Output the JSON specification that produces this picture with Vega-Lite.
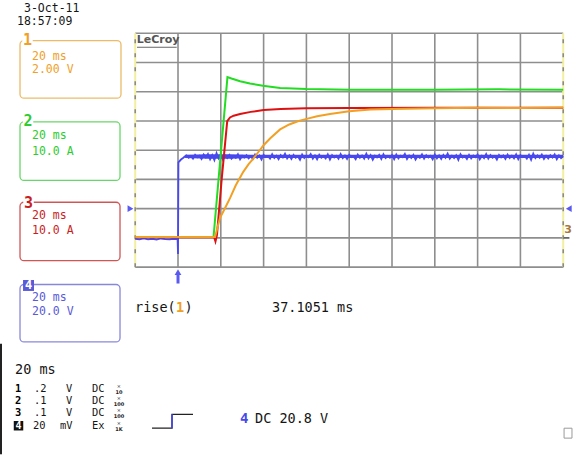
{
"$schema": "https://vega.github.io/schema/vega-lite/v6.json",
"width": 586, "height": 456,
"autosize": {"type": "fit", "contains": "padding"},
"padding": 0,
"background": "white",
"config": {"view": {"stroke": null}, "axis": {"disable": true}, "legend": {"disable": true}},
"datasets": {
"vgrid": [{"t":0,"v":-4,"v2":4},{"t":20,"v":-4,"v2":4},{"t":40,"v":-4,"v2":4},{"t":60,"v":-4,"v2":4},{"t":80,"v":-4,"v2":4},{"t":100,"v":-4,"v2":4},{"t":120,"v":-4,"v2":4},{"t":140,"v":-4,"v2":4},{"t":160,"v":-4,"v2":4}],
"hgrid": [{"v":-4,"t":-20,"t2":180},{"v":-3,"t":-20,"t2":180},{"v":-2,"t":-20,"t2":180},{"v":-1,"t":-20,"t2":180},{"v":0,"t":-20,"t2":180},{"v":1,"t":-20,"t2":180},{"v":2,"t":-20,"t2":180},{"v":3,"t":-20,"t2":180},{"v":4,"t":-20,"t2":180}],
"xticks": [{"t":-16},{"t":-12},{"t":-8},{"t":-4},{"t":4},{"t":8},{"t":12},{"t":16},{"t":24},{"t":28},{"t":32},{"t":36},{"t":44},{"t":48},{"t":52},{"t":56},{"t":64},{"t":68},{"t":72},{"t":76},{"t":84},{"t":88},{"t":92},{"t":96},{"t":104},{"t":108},{"t":112},{"t":116},{"t":124},{"t":128},{"t":132},{"t":136},{"t":144},{"t":148},{"t":152},{"t":156},{"t":164},{"t":168},{"t":172},{"t":176}],
"yticks": [{"v":-3.8},{"v":-3.6},{"v":-3.4},{"v":-3.2},{"v":-2.8},{"v":-2.6},{"v":-2.4},{"v":-2.2},{"v":-1.8},{"v":-1.6},{"v":-1.4},{"v":-1.2},{"v":-0.8},{"v":-0.6},{"v":-0.4},{"v":-0.2},{"v":0.2},{"v":0.4},{"v":0.6},{"v":0.8},{"v":1.2},{"v":1.4},{"v":1.6},{"v":1.8},{"v":2.2},{"v":2.4},{"v":2.6},{"v":2.8},{"v":3.2},{"v":3.4},{"v":3.6},{"v":3.8}],
"borders": [{"t":-20,"v":-4,"v2":4},{"t":180,"v":-4,"v2":4}],
"blueband": [{"t":3.3,"v":-0.27,"v2":-0.16},{"t":14,"v":-0.29,"v2":-0.14},{"t":24,"v":-0.29,"v2":-0.14},{"t":34,"v":-0.27,"v2":-0.16},{"t":180,"v":-0.27,"v2":-0.16}],
"traces": [
{"ch":"4","t":-20,"v":-3.03},{"ch":"4","t":-18,"v":-3.05},{"ch":"4","t":-16,"v":-3.02},{"ch":"4","t":-14,"v":-3.05},{"ch":"4","t":-12,"v":-3.03},{"ch":"4","t":-10,"v":-3.06},{"ch":"4","t":-8,"v":-3.02},{"ch":"4","t":-6,"v":-3.04},{"ch":"4","t":-4,"v":-3.05},{"ch":"4","t":-2,"v":-3.03},{"ch":"4","t":-0.2,"v":-3.04},{"ch":"4","t":0,"v":-3.55},{"ch":"4","t":0.2,"v":-0.42},{"ch":"4","t":1.4,"v":-0.32},{"ch":"4","t":2.5,"v":-0.26},{"ch":"4","t":3.3,"v":-0.21},
{"ch":"4","t":4,"v":-0.18},{"ch":"4","t":5,"v":-0.26},{"ch":"4","t":6,"v":-0.2},{"ch":"4","t":7,"v":-0.29},{"ch":"4","t":8,"v":-0.16},{"ch":"4","t":9,"v":-0.24},{"ch":"4","t":10,"v":-0.19},{"ch":"4","t":11,"v":-0.3},{"ch":"4","t":12,"v":-0.15},{"ch":"4","t":13,"v":-0.25},
{"ch":"4","t":14,"v":-0.13},{"ch":"4","t":15,"v":-0.31},{"ch":"4","t":16,"v":-0.17},{"ch":"4","t":17,"v":-0.34},{"ch":"4","t":18,"v":-0.1},{"ch":"4","t":19,"v":-0.28},{"ch":"4","t":20,"v":-0.14},{"ch":"4","t":21,"v":-0.33},{"ch":"4","t":22,"v":-0.18},{"ch":"4","t":23,"v":-0.27},
{"ch":"4","t":24,"v":-0.16},{"ch":"4","t":25,"v":-0.29},{"ch":"4","t":26,"v":-0.2},{"ch":"4","t":27,"v":-0.26},{"ch":"4","t":28,"v":-0.14},{"ch":"4","t":29,"v":-0.31},{"ch":"4","t":30,"v":-0.19},{"ch":"4","t":31,"v":-0.25},{"ch":"4","t":32,"v":-0.17},{"ch":"4","t":33,"v":-0.28},
{"ch":"4","t":34,"v":-0.21},{"ch":"4","t":35,"v":-0.3},{"ch":"4","t":36,"v":-0.15},{"ch":"4","t":37,"v":-0.26},{"ch":"4","t":38,"v":-0.18},{"ch":"4","t":39,"v":-0.32},{"ch":"4","t":40,"v":-0.16},{"ch":"4","t":41,"v":-0.24},{"ch":"4","t":42,"v":-0.2},{"ch":"4","t":43,"v":-0.29},
{"ch":"4","t":44,"v":-0.14},{"ch":"4","t":45,"v":-0.27},{"ch":"4","t":46,"v":-0.19},{"ch":"4","t":47,"v":-0.31},{"ch":"4","t":48,"v":-0.17},{"ch":"4","t":49,"v":-0.25},{"ch":"4","t":50,"v":-0.12},{"ch":"4","t":51,"v":-0.28},{"ch":"4","t":52,"v":-0.18},{"ch":"4","t":53,"v":-0.3},
{"ch":"4","t":54,"v":-0.16},{"ch":"4","t":55,"v":-0.26},{"ch":"4","t":56,"v":-0.21},{"ch":"4","t":57,"v":-0.33},{"ch":"4","t":58,"v":-0.15},{"ch":"4","t":59,"v":-0.27},{"ch":"4","t":60,"v":-0.19},{"ch":"4","t":61,"v":-0.24},{"ch":"4","t":62,"v":-0.13},{"ch":"4","t":63,"v":-0.29},
{"ch":"4","t":64,"v":-0.18},{"ch":"4","t":65,"v":-0.31},{"ch":"4","t":66,"v":-0.16},{"ch":"4","t":67,"v":-0.26},{"ch":"4","t":68,"v":-0.2},{"ch":"4","t":69,"v":-0.28},{"ch":"4","t":70,"v":-0.14},{"ch":"4","t":71,"v":-0.32},{"ch":"4","t":72,"v":-0.17},{"ch":"4","t":73,"v":-0.25},
{"ch":"4","t":74,"v":-0.19},{"ch":"4","t":75,"v":-0.29},{"ch":"4","t":76,"v":-0.13},{"ch":"4","t":77,"v":-0.27},{"ch":"4","t":78,"v":-0.18},{"ch":"4","t":79,"v":-0.3},{"ch":"4","t":80,"v":-0.16},{"ch":"4","t":81,"v":-0.24},{"ch":"4","t":82,"v":-0.21},{"ch":"4","t":83,"v":-0.31},
{"ch":"4","t":84,"v":-0.15},{"ch":"4","t":85,"v":-0.26},{"ch":"4","t":86,"v":-0.18},{"ch":"4","t":87,"v":-0.29},{"ch":"4","t":88,"v":-0.12},{"ch":"4","t":89,"v":-0.28},{"ch":"4","t":90,"v":-0.17},{"ch":"4","t":91,"v":-0.33},{"ch":"4","t":92,"v":-0.19},{"ch":"4","t":93,"v":-0.25},
{"ch":"4","t":94,"v":-0.16},{"ch":"4","t":95,"v":-0.3},{"ch":"4","t":96,"v":-0.14},{"ch":"4","t":97,"v":-0.27},{"ch":"4","t":98,"v":-0.2},{"ch":"4","t":99,"v":-0.26},{"ch":"4","t":100,"v":-0.17},{"ch":"4","t":101,"v":-0.31},{"ch":"4","t":102,"v":-0.15},{"ch":"4","t":103,"v":-0.28},
{"ch":"4","t":104,"v":-0.19},{"ch":"4","t":105,"v":-0.24},{"ch":"4","t":106,"v":-0.13},{"ch":"4","t":107,"v":-0.3},{"ch":"4","t":108,"v":-0.18},{"ch":"4","t":109,"v":-0.27},{"ch":"4","t":110,"v":-0.16},{"ch":"4","t":111,"v":-0.32},{"ch":"4","t":112,"v":-0.2},{"ch":"4","t":113,"v":-0.26},
{"ch":"4","t":114,"v":-0.14},{"ch":"4","t":115,"v":-0.29},{"ch":"4","t":116,"v":-0.17},{"ch":"4","t":117,"v":-0.25},{"ch":"4","t":118,"v":-0.19},{"ch":"4","t":119,"v":-0.31},{"ch":"4","t":120,"v":-0.15},{"ch":"4","t":121,"v":-0.28},{"ch":"4","t":122,"v":-0.18},{"ch":"4","t":123,"v":-0.3},
{"ch":"4","t":124,"v":-0.16},{"ch":"4","t":125,"v":-0.26},{"ch":"4","t":126,"v":-0.12},{"ch":"4","t":127,"v":-0.29},{"ch":"4","t":128,"v":-0.19},{"ch":"4","t":129,"v":-0.27},{"ch":"4","t":130,"v":-0.17},{"ch":"4","t":131,"v":-0.33},{"ch":"4","t":132,"v":-0.14},{"ch":"4","t":133,"v":-0.25},
{"ch":"4","t":134,"v":-0.2},{"ch":"4","t":135,"v":-0.3},{"ch":"4","t":136,"v":-0.16},{"ch":"4","t":137,"v":-0.28},{"ch":"4","t":138,"v":-0.18},{"ch":"4","t":139,"v":-0.24},{"ch":"4","t":140,"v":-0.15},{"ch":"4","t":141,"v":-0.31},{"ch":"4","t":142,"v":-0.19},{"ch":"4","t":143,"v":-0.27},
{"ch":"4","t":144,"v":-0.13},{"ch":"4","t":145,"v":-0.29},{"ch":"4","t":146,"v":-0.17},{"ch":"4","t":147,"v":-0.26},{"ch":"4","t":148,"v":-0.2},{"ch":"4","t":149,"v":-0.32},{"ch":"4","t":150,"v":-0.16},{"ch":"4","t":151,"v":-0.25},{"ch":"4","t":152,"v":-0.18},{"ch":"4","t":153,"v":-0.3},
{"ch":"4","t":154,"v":-0.15},{"ch":"4","t":155,"v":-0.27},{"ch":"4","t":156,"v":-0.19},{"ch":"4","t":157,"v":-0.28},{"ch":"4","t":158,"v":-0.14},{"ch":"4","t":159,"v":-0.31},{"ch":"4","t":160,"v":-0.17},{"ch":"4","t":161,"v":-0.24},{"ch":"4","t":162,"v":-0.2},{"ch":"4","t":163,"v":-0.29},
{"ch":"4","t":164,"v":-0.16},{"ch":"4","t":165,"v":-0.33},{"ch":"4","t":166,"v":-0.12},{"ch":"4","t":167,"v":-0.27},{"ch":"4","t":168,"v":-0.18},{"ch":"4","t":169,"v":-0.26},{"ch":"4","t":170,"v":-0.15},{"ch":"4","t":171,"v":-0.3},{"ch":"4","t":172,"v":-0.19},{"ch":"4","t":173,"v":-0.28},
{"ch":"4","t":174,"v":-0.17},{"ch":"4","t":175,"v":-0.25},{"ch":"4","t":176,"v":-0.14},{"ch":"4","t":177,"v":-0.31},{"ch":"4","t":178,"v":-0.18},{"ch":"4","t":179,"v":-0.27},{"ch":"4","t":180,"v":-0.2},
{"ch":"2","t":-20,"v":-2.97},{"ch":"2","t":16.6,"v":-2.97},{"ch":"2","t":23.1,"v":2.5},{"ch":"2","t":25,"v":2.45},{"ch":"2","t":29,"v":2.36},{"ch":"2","t":33.6,"v":2.28},{"ch":"2","t":39.7,"v":2.2},{"ch":"2","t":47.7,"v":2.13},{"ch":"2","t":60,"v":2.09},{"ch":"2","t":80,"v":2.07},{"ch":"2","t":120,"v":2.07},{"ch":"2","t":150,"v":2.08},{"ch":"2","t":180,"v":2.07},
{"ch":"3","t":-20,"v":-2.98},{"ch":"3","t":16.9,"v":-2.98},{"ch":"3","t":17.5,"v":-3.12},{"ch":"3","t":18.2,"v":-2.9},{"ch":"3","t":20.4,"v":-1.0},{"ch":"3","t":23.0,"v":0.99},{"ch":"3","t":24.3,"v":1.12},{"ch":"3","t":26,"v":1.18},{"ch":"3","t":29,"v":1.24},{"ch":"3","t":34,"v":1.31},{"ch":"3","t":40,"v":1.37},{"ch":"3","t":48,"v":1.41},{"ch":"3","t":60,"v":1.43},{"ch":"3","t":80,"v":1.44},{"ch":"3","t":120,"v":1.45},{"ch":"3","t":180,"v":1.45},
{"ch":"1","t":-20,"v":-2.97},{"ch":"1","t":17.3,"v":-2.97},{"ch":"1","t":19.6,"v":-2.32},{"ch":"1","t":22,"v":-1.98},{"ch":"1","t":24.3,"v":-1.64},{"ch":"1","t":27,"v":-1.2},{"ch":"1","t":30.5,"v":-0.74},{"ch":"1","t":33,"v":-0.48},{"ch":"1","t":35.2,"v":-0.29},{"ch":"1","t":38,"v":-0.02},{"ch":"1","t":40,"v":0.17},{"ch":"1","t":43,"v":0.4},{"ch":"1","t":47.7,"v":0.71},{"ch":"1","t":52,"v":0.88},{"ch":"1","t":56,"v":0.99},{"ch":"1","t":60.1,"v":1.07},{"ch":"1","t":65,"v":1.16},{"ch":"1","t":71,"v":1.24},{"ch":"1","t":80,"v":1.33},{"ch":"1","t":90,"v":1.39},{"ch":"1","t":100,"v":1.41},{"ch":"1","t":120,"v":1.43},{"ch":"1","t":140,"v":1.45},{"ch":"1","t":160,"v":1.44},{"ch":"1","t":180,"v":1.46}
],
"markers": [{"k":"L","t":-22.2,"v":-2.0},{"k":"R","t":182.6,"v":-2.0},{"k":"T","t":0,"v":-4.17}],
"trigshaft": [{"t":0,"v":-4.25,"v2":-4.56}],
"rightlevel": [{"t":180.3,"t2":182.9,"v":-3.0}],
"rightlabel": [{"t":182.3,"v":-2.73,"text":"3"}],
"boxes": [
{"ch":"1","t":-73.83,"t2":-26.64,"v":3.746,"v2":1.78},
{"ch":"2","t":-73.83,"t2":-27.1,"v":0.966,"v2":-1.034},
{"ch":"3","t":-73.83,"t2":-27.1,"v":-1.78,"v2":-3.78},
{"ch":"4","t":-73.83,"t2":-27.1,"v":-4.593,"v2":-6.559}
],
"boxtext": [
{"ch":"1","t":-68.22,"v":3.203,"text":"20 ms"},{"ch":"1","t":-68.22,"v":2.729,"text":"2.00 V"},
{"ch":"2","t":-68.22,"v":0.492,"text":"20 ms"},{"ch":"2","t":-68.22,"v":-0.051,"text":"10.0 A"},
{"ch":"3","t":-68.22,"v":-2.254,"text":"20 ms"},{"ch":"3","t":-68.22,"v":-2.763,"text":"10.0 A"},
{"ch":"4","t":-68.22,"v":-5.068,"text":"20 ms"},{"ch":"4","t":-68.22,"v":-5.542,"text":"20.0 V"}
],
"boxlabels": [
{"ch":"1","t":-70.33,"v":3.78,"text":"1"},
{"ch":"2","t":-70.09,"v":0.983,"text":"2"},
{"ch":"3","t":-69.86,"v":-1.814,"text":"3"},
{"ch":"4","t":-69.86,"v":-4.627,"text":"4"}
],
"datetime": [
{"t":-71.96,"v":4.83,"text":"3-Oct-11"},
{"t":-75.23,"v":4.373,"text":"18:57:09"}
],
"black": [
{"t":-20.09,"v":-5.407,"text":"rise("},
{"t":3.0,"v":-5.407,"text":")"},
{"t":43.93,"v":-5.407,"text":"37.1051 ms"},
{"t":-76.17,"v":-7.508,"text":"20 ms"},
{"t":35.98,"v":-9.203,"text":"DC 20.8 V"}
],
"rows": [
{"t":-67.29,"v":-8.153,"text":".2"},
{"t":-67.29,"v":-8.576,"text":".1"},
{"t":-67.29,"v":-9.0,"text":".1"},
{"t":-67.76,"v":-9.424,"text":"20"},
{"t":-52.3,"v":-8.153,"text":"V"},
{"t":-52.3,"v":-8.576,"text":"V"},
{"t":-52.3,"v":-9.0,"text":"V"},
{"t":-55.14,"v":-9.424,"text":"mV"},
{"t":-40.19,"v":-8.153,"text":"DC"},
{"t":-40.19,"v":-8.576,"text":"DC"},
{"t":-40.19,"v":-9.0,"text":"DC"},
{"t":-40.19,"v":-9.424,"text":"Ex"}
],
"rownums": [{"t":-76.2,"v":-8.153,"text":"1"},{"t":-76.2,"v":-8.576,"text":"2"},{"t":-76.2,"v":-9.0,"text":"3"}],
"row4": [{"t":-74.53,"v":-9.424,"text":"4"}],
"probex": [{"t":-27.6,"v":-8.048},{"t":-27.6,"v":-8.471},{"t":-27.6,"v":-8.895},{"t":-27.6,"v":-9.319}],
"probed": [{"t":-27.6,"v":-8.258,"text":"10"},{"t":-27.6,"v":-8.681,"text":"100"},{"t":-27.6,"v":-9.105,"text":"100"},{"t":-27.6,"v":-9.529,"text":"1K"}],
"trig": [{"t":-12.15,"v":-9.508},{"t":-2.8,"v":-9.508},{"t":-2.8,"v":-9.034},{"t":7.01,"v":-9.034}],
"trigv": [{"t":-2.8,"v":-9.508,"v2":-9.034}],
"bluetext": [{"t":28.97,"v":-9.203,"text":"4"}],
"orangetext": [{"t":-0.9,"v":-5.407,"text":"1"}],
"logo": [{"t":-19.3,"v":3.77,"text":"LeCroy"}],
"logoline": [{"t":-19.16,"t2":-0.6,"v":3.52}],
"corner": [{"t":180.4,"t2":184.1,"v":-9.508,"v2":-9.847}],
"leftedge": [{"t":-82.7,"v":-6.62,"v2":-10.4}]
},
"encoding": {
"x": {"field": "t", "type": "quantitative", "scale": {"domain": [-83.18, 190.65], "nice": false, "zero": false}, "axis": null},
"y": {"field": "v", "type": "quantitative", "scale": {"domain": [-10.322, 5.136], "nice": false, "zero": false}, "axis": null}
},
"layer": [
{"data": {"name": "vgrid"}, "mark": {"type": "rule", "color": "#8e8e8e", "strokeWidth": 1.6}, "encoding": {"y2": {"field": "v2"}}},
{"data": {"name": "hgrid"}, "mark": {"type": "rule", "color": "#8e8e8e", "strokeWidth": 1.6}, "encoding": {"x2": {"field": "t2"}}},
{"data": {"name": "xticks"}, "mark": {"type": "point", "shape": "M0,-1L0,1", "size": 36, "filled": false, "stroke": "#7a7a7a", "strokeWidth": 1.2, "opacity": 1}, "encoding": {"y": {"datum": 0, "type": "quantitative"}}},
{"data": {"name": "yticks"}, "mark": {"type": "point", "shape": "M-1,0L1,0", "size": 64, "filled": false, "stroke": "#7a7a7a", "strokeWidth": 1.2, "opacity": 1}, "encoding": {"x": {"datum": 80, "type": "quantitative"}}},
{"data": {"name": "borders"}, "mark": {"type": "rule", "color": "#f2f0a0", "strokeWidth": 2}, "encoding": {"y2": {"field": "v2"}}},
{"data": {"name": "borders"}, "mark": {"type": "rule", "color": "#8a8a8a", "strokeWidth": 1.6, "strokeDash": [4, 10]}, "encoding": {"y2": {"field": "v2"}}},
{"data": {"name": "blueband"}, "mark": {"type": "area", "color": "#4848ee", "opacity": 1}, "encoding": {"y2": {"field": "v2"}}},
{"data": {"name": "traces"}, "transform": [{"filter": "datum.ch === '4'"}], "mark": {"type": "line", "color": "#4848ee", "strokeWidth": 1.8}, "encoding": {}},
{"data": {"name": "traces"}, "transform": [{"filter": "datum.ch === '2'"}], "mark": {"type": "line", "color": "#22dd22", "strokeWidth": 2}, "encoding": {}},
{"data": {"name": "traces"}, "transform": [{"filter": "datum.ch === '3'"}], "mark": {"type": "line", "color": "#dd1111", "strokeWidth": 2}, "encoding": {}},
{"data": {"name": "traces"}, "transform": [{"filter": "datum.ch === '1'"}], "mark": {"type": "line", "color": "#f2a024", "strokeWidth": 2}, "encoding": {}},
{"data": {"name": "markers"}, "mark": {"type": "point", "filled": true, "size": 45, "color": "#5a5af0", "opacity": 1}, "encoding": {"shape": {"field": "k", "type": "nominal", "scale": {"domain": ["L", "R", "T"], "range": ["triangle-right", "triangle-left", "triangle-up"]}, "legend": null}}},
{"data": {"name": "trigshaft"}, "mark": {"type": "rule", "color": "#5a5af0", "strokeWidth": 3}, "encoding": {"y2": {"field": "v2"}}},
{"data": {"name": "rightlevel"}, "mark": {"type": "rule", "color": "#555555", "strokeWidth": 1.6}, "encoding": {"x2": {"field": "t2"}}},
{"data": {"name": "rightlabel"}, "mark": {"type": "text", "font": "DejaVu Sans", "fontWeight": "bold", "fontSize": 11, "color": "#a8783a", "align": "center", "baseline": "middle"}, "encoding": {"text": {"field": "text"}}},
{"data": {"name": "logo"}, "mark": {"type": "text", "font": "DejaVu Sans", "fontWeight": "bold", "fontSize": 11, "color": "#555555", "align": "left", "baseline": "middle"}, "encoding": {"text": {"field": "text"}}},
{"data": {"name": "logoline"}, "mark": {"type": "rule", "color": "#666666", "strokeWidth": 1}, "encoding": {"x2": {"field": "t2"}}},
{"data": {"name": "boxes"}, "mark": {"type": "rect", "fill": null, "fillOpacity": 0, "strokeWidth": 1.3, "strokeOpacity": 0.8, "cornerRadius": 4}, "encoding": {"x2": {"field": "t2"}, "y2": {"field": "v2"}, "stroke": {"field": "ch", "type": "nominal", "scale": {"domain": ["1", "2", "3", "4"], "range": ["#e6aa44", "#44cc44", "#c42a2a", "#6a6ad2"]}, "legend": null}}},
{"data": {"name": "boxlabels"}, "transform": [{"filter": "datum.ch !== '4'"}], "mark": {"type": "point", "shape": "square", "filled": true, "size": 110, "color": "white", "opacity": 1}, "encoding": {}},
{"data": {"name": "boxlabels"}, "transform": [{"filter": "datum.ch === '4'"}], "mark": {"type": "point", "shape": "square", "filled": true, "size": 120, "color": "#5a5ad8", "opacity": 1}, "encoding": {}},
{"data": {"name": "boxlabels"}, "transform": [{"filter": "datum.ch !== '4'"}], "mark": {"type": "text", "font": "DejaVu Sans Mono", "fontWeight": "bold", "fontSize": 15, "align": "center", "baseline": "middle"}, "encoding": {"text": {"field": "text"}, "color": {"field": "ch", "type": "nominal", "scale": {"domain": ["1", "2", "3", "4"], "range": ["#f0a028", "#2ecc2e", "#c81e1e", "#5a5ad8"]}, "legend": null}}},
{"data": {"name": "boxlabels"}, "transform": [{"filter": "datum.ch === '4'"}], "mark": {"type": "text", "font": "DejaVu Sans Mono", "fontWeight": "bold", "fontSize": 12, "align": "center", "baseline": "middle", "color": "white"}, "encoding": {"text": {"field": "text"}}},
{"data": {"name": "boxtext"}, "mark": {"type": "text", "font": "DejaVu Sans Mono", "fontSize": 11.5, "align": "left", "baseline": "middle"}, "encoding": {"text": {"field": "text"}, "color": {"field": "ch", "type": "nominal", "scale": {"domain": ["1", "2", "3", "4"], "range": ["#f0a028", "#2ecc2e", "#c81e1e", "#5a5ad8"]}, "legend": null}}},
{"data": {"name": "datetime"}, "mark": {"type": "text", "font": "DejaVu Sans Mono", "fontSize": 11.5, "align": "left", "baseline": "middle", "color": "#151515"}, "encoding": {"text": {"field": "text"}}},
{"data": {"name": "black"}, "mark": {"type": "text", "font": "DejaVu Sans Mono", "fontSize": 13.5, "align": "left", "baseline": "middle", "color": "#151515"}, "encoding": {"text": {"field": "text"}}},
{"data": {"name": "rows"}, "mark": {"type": "text", "font": "DejaVu Sans Mono", "fontSize": 10.4, "align": "left", "baseline": "middle", "color": "#151515"}, "encoding": {"text": {"field": "text"}}},
{"data": {"name": "rownums"}, "mark": {"type": "text", "font": "DejaVu Sans Mono", "fontWeight": "bold", "fontSize": 10.4, "align": "left", "baseline": "middle", "color": "#000000"}, "encoding": {"text": {"field": "text"}}},
{"data": {"name": "row4"}, "mark": {"type": "point", "shape": "square", "filled": true, "size": 90, "color": "#111111", "opacity": 1}, "encoding": {}},
{"data": {"name": "row4"}, "mark": {"type": "text", "font": "DejaVu Sans Mono", "fontWeight": "bold", "fontSize": 10, "align": "center", "baseline": "middle", "color": "white"}, "encoding": {"text": {"field": "text"}}},
{"data": {"name": "probex"}, "mark": {"type": "text", "text": "×", "font": "DejaVu Sans", "fontSize": 5, "align": "center", "baseline": "middle", "color": "#222222"}, "encoding": {}},
{"data": {"name": "probed"}, "mark": {"type": "text", "font": "DejaVu Sans", "fontWeight": "bold", "fontSize": 5, "align": "center", "baseline": "middle", "color": "#222222"}, "encoding": {"text": {"field": "text"}}},
{"data": {"name": "trig"}, "mark": {"type": "line", "color": "#222222", "strokeWidth": 1.3}, "encoding": {"order": {"value": null}}},
{"data": {"name": "trigv"}, "mark": {"type": "rule", "color": "#4848e8", "strokeWidth": 1.6}, "encoding": {"y2": {"field": "v2"}}},
{"data": {"name": "bluetext"}, "mark": {"type": "text", "font": "DejaVu Sans Mono", "fontWeight": "bold", "fontSize": 14, "align": "left", "baseline": "middle", "color": "#4848e8"}, "encoding": {"text": {"field": "text"}}},
{"data": {"name": "orangetext"}, "mark": {"type": "text", "font": "DejaVu Sans Mono", "fontWeight": "bold", "fontSize": 13.5, "align": "left", "baseline": "middle", "color": "#f0a020"}, "encoding": {"text": {"field": "text"}}},
{"data": {"name": "corner"}, "mark": {"type": "rect", "fill": null, "fillOpacity": 0, "stroke": "#9a9a9a", "strokeWidth": 1}, "encoding": {"x2": {"field": "t2"}, "y2": {"field": "v2"}}},
{"data": {"name": "leftedge"}, "mark": {"type": "rule", "color": "#222222", "strokeWidth": 2}, "encoding": {"y2": {"field": "v2"}}}
]
}
